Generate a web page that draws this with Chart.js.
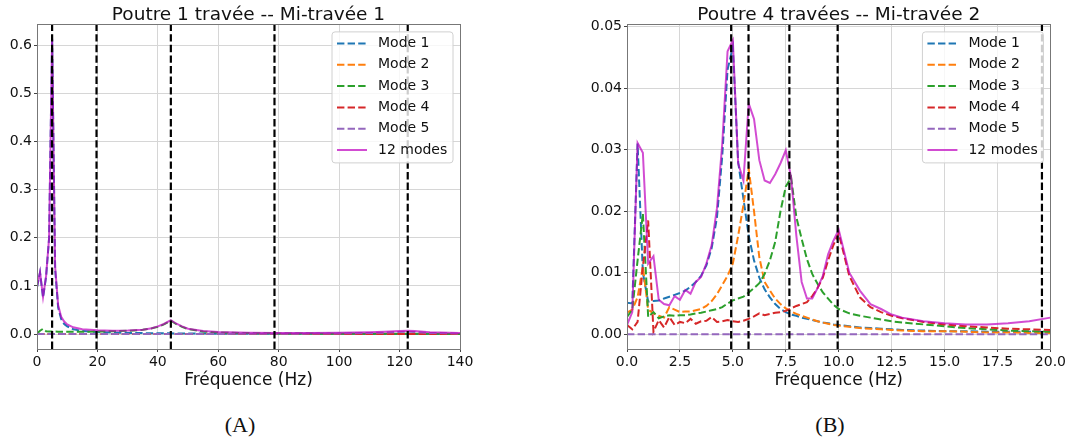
<!DOCTYPE html>
<html lang="fr">
<head>
<meta charset="utf-8">
<title>Poutre - réponse en fréquence</title>
<script src="https://cdn.jsdelivr.net/npm/chart.js@4.4.1/dist/chart.umd.min.js"></script>
<style>
  body { margin: 0; background: #fff; }
  #wrap { position: relative; width: 1068px; height: 445px; }
  canvas { position: absolute; top: 0; }
  #chartA { left: 0; }
  #chartB { left: 580px; }
  .caption { position: absolute; top: 412px; width: 60px; text-align: center;
             font: 22px "Liberation Serif", "DejaVu Serif", serif; color: #111; }
</style>
</head>
<body>
<div id="wrap">
  <canvas id="chartA" width="480" height="395"></canvas>
  <canvas id="chartB" width="488" height="395"></canvas>
  <div class="caption" style="left:210px">(A)</div>
  <div class="caption" style="left:800px">(B)</div>
</div>
<script>
// ---- Poutre 1 travée (A) ----
const freqA = [0, 1, 2, 3, 4, 5, 6, 7, 8, 9, 10, 12, 15, 20, 25, 30, 35, 38, 40, 42,
               44.3, 46, 48, 50, 55, 60, 70, 80, 90, 100, 110, 115, 120, 122.7, 125, 130, 140];
const mode1A = [0.097, 0.128, 0.076, 0.119, 0.199, 0.612, 0.135, 0.055, 0.031, 0.021,
                0.016, 0.01, 0.0065, 0.0042, 0.003, 0.0024, 0.002, 0.0018, 0.0017, 0.0016,
                0.0015, 0.0014, 0.0013, 0.0012, 0.001, 0.0009, 0.0007, 0.0006, 0.0005, 0.0005,
                0.0004, 0.0004, 0.0004, 0.0004, 0.0003, 0.0003, 0.0003];
const mode2A = [0, 0, 0, 0, 0, 0, 0, 0, 0, 0, 0, 0, 0, 0, 0, 0, 0, 0, 0, 0,
                0, 0, 0, 0, 0, 0, 0, 0, 0, 0, 0, 0, 0, 0, 0, 0, 0];
const mode3A = [0.001, 0.007, 0.011, 0.006, 0.0055, 0.0055, 0.0052, 0.005, 0.005, 0.005,
                0.005, 0.005, 0.005, 0.0052, 0.0058, 0.0068, 0.0088, 0.012, 0.015, 0.02,
                0.028, 0.021, 0.015, 0.0105, 0.0055, 0.0035, 0.002, 0.0014, 0.001, 0.0008,
                0.0007, 0.0006, 0.0006, 0.0006, 0.0005, 0.0005, 0.0004];
const mode4A = [0, 0, 0, 0, 0, 0, 0, 0, 0, 0, 0, 0, 0, 0, 0, 0, 0, 0, 0, 0,
                0, 0, 0, 0, 0, 0, 0, 0, 0, 0, 0, 0, 0, 0, 0, 0, 0];
const mode5A = [0, 0, 0, 0, 0, 0, 0, 0, 0, 0, 0, 0, 0, 0, 0, 0, 0, 0, 0, 0,
                0.0002, 0.0002, 0.0002, 0.0003, 0.0003, 0.0004, 0.0005, 0.0007, 0.001, 0.0014,
                0.0022, 0.003, 0.0045, 0.005, 0.0045, 0.0025, 0.001];
const totalA = [0.098, 0.129, 0.077, 0.12, 0.2, 0.614, 0.14, 0.06, 0.036, 0.026,
                0.02, 0.014, 0.01, 0.008, 0.007, 0.0072, 0.009, 0.012, 0.016, 0.021,
                0.029, 0.022, 0.016, 0.011, 0.0065, 0.0045, 0.003, 0.0025, 0.0025, 0.003,
                0.004, 0.005, 0.0063, 0.0068, 0.0062, 0.004, 0.002];
const naturalA = [5.0, 19.7, 44.3, 78.6, 122.7];
const yRangeA = [-0.031, 0.644];

// ---- Poutre 4 travées (B) ----
const freqB = [0, 0.25, 0.5, 0.75, 1, 1.25, 1.5, 1.75, 2, 2.25,
               2.5, 2.75, 3, 3.25, 3.5, 3.75, 4, 4.25, 4.5, 4.75,
               5, 5.25, 5.5, 5.75, 6, 6.25, 6.5, 6.75, 7, 7.25,
               7.5, 7.75, 8, 8.25, 8.5, 8.75, 9, 9.25, 9.5, 9.75,
               10, 10.5, 11, 11.5, 12, 12.5, 13,
               14, 15, 16, 17, 18, 19, 20];
const mode1B = [0.0051, 0.0050, 0.0310, 0.0100, 0.0053, 0.0054, 0.0055, 0.0058, 0.0061, 0.0064,
                0.0067, 0.0071, 0.0077, 0.0085, 0.0095, 0.0112, 0.0140, 0.0190, 0.0290, 0.0430,
                0.0467, 0.0280, 0.0220, 0.0160, 0.0120, 0.0092, 0.0073, 0.0060, 0.0049, 0.0041,
                0.0036, 0.0032, 0.0030, 0.0027, 0.0025, 0.0023, 0.0021, 0.0019, 0.0018, 0.0016,
                0.0015, 0.0013, 0.0011, 0.0010, 0.0009, 0.0008, 0.0007,
                0.0006, 0.0005, 0.0005, 0.0004, 0.0004, 0.0004, 0.0004];
const mode2B = [0.0035, 0.0040, 0.0060, 0.0110, 0.0040, 0.0034, 0.0030, 0.0027, 0.0044, 0.0040,
                0.0036, 0.0037, 0.0037, 0.0039, 0.0041, 0.0046, 0.0054, 0.0065, 0.0080, 0.0095,
                0.0115, 0.0160, 0.0210, 0.0269, 0.0200, 0.0125, 0.0085, 0.0071, 0.0058, 0.0049,
                0.0042, 0.0037, 0.0033, 0.0030, 0.0027, 0.0024, 0.0021, 0.0019, 0.0017, 0.0015,
                0.0014, 0.0012, 0.0010, 0.0009, 0.0008, 0.0007, 0.0006,
                0.0005, 0.0005, 0.0004, 0.0003, 0.0003, 0.0002, 0.0002];
const mode3B = [0.0028, 0.0040, 0.0120, 0.0196, 0.0028, 0.0036, 0.0026, 0.0029, 0.0031, 0.0030,
                0.0031, 0.0031, 0.0032, 0.0034, 0.0035, 0.0037, 0.0039, 0.0041, 0.0044, 0.0050,
                0.0055, 0.0058, 0.0061, 0.0068, 0.0075, 0.0083, 0.0098, 0.0120, 0.0150, 0.0200,
                0.0240, 0.0255, 0.0190, 0.0155, 0.0122, 0.0098, 0.0082, 0.0068, 0.0058, 0.0048,
                0.0041, 0.0034, 0.0030, 0.0027, 0.0024, 0.0021, 0.0019,
                0.0016, 0.0013, 0.0010, 0.0008, 0.0006, 0.0005, 0.0004];
const mode4B = [0.0015, 0.0008, 0.0020, 0.0110, 0.0185, 0.0004, 0.0023, 0.0011, 0.0028, 0.0015,
                0.0020, 0.0018, 0.0025, 0.0017, 0.0021, 0.0022, 0.0028, 0.0020, 0.0021, 0.0023,
                0.0021, 0.0020, 0.0022, 0.0025, 0.0029, 0.0034, 0.0031, 0.0033, 0.0035, 0.0036,
                0.0038, 0.0042, 0.0046, 0.0049, 0.0052, 0.0062, 0.0075, 0.0092, 0.0120, 0.0145,
                0.0164, 0.0095, 0.0060, 0.0044, 0.0036, 0.0030, 0.0026,
                0.0020, 0.0016, 0.0013, 0.0011, 0.0009, 0.0008, 0.0007];
const mode5B = [0, 0, 0, 0, 0, 0, 0, 0, 0, 0,
                0, 0, 0, 0, 0, 0, 0, 0, 0, 0,
                0, 0, 0, 0, 0, 0, 0, 0, 0, 0,
                0, 0, 0, 0, 0, 0, 0, 0, 0, 0,
                0, 0, 0, 0, 0, 0, 0,
                0, 0, 0, 0, 0, 0, 0];
const totalB = [0.0015, 0.0036, 0.0311, 0.0295, 0.0115, 0.0127, 0.0056, 0.0049, 0.0047, 0.0062,
                0.0056, 0.0072, 0.0066, 0.0085, 0.0093, 0.0115, 0.0145, 0.0205, 0.0310, 0.0460,
                0.0478, 0.0278, 0.0250, 0.0375, 0.0350, 0.0283, 0.0250, 0.0246, 0.0260, 0.0278,
                0.0299, 0.0255, 0.0160, 0.0085, 0.0058, 0.0058, 0.0075, 0.0095, 0.0130, 0.0152,
                0.0170, 0.0100, 0.0071, 0.0049, 0.0041, 0.0032, 0.0027,
                0.0021, 0.0018, 0.0016, 0.0016, 0.0018, 0.0021, 0.0027];
const naturalB = [4.92, 5.74, 7.67, 9.95, 19.6];
const yRangeB = [-0.0024, 0.0504];

const MODE_COLORS = ['#1f77b4', '#ff7f0e', '#2ca02c', '#d62728', '#9467bd'];
const TOTAL_COLOR = 'rgba(191, 0, 191, 0.7)';
const FONT = '"DejaVu Sans", sans-serif';
const TEXT = '#111';
const GRID = '#d6d6d6';

function pts(xs, ys) {
    return xs.map((x, i) => ({ x: x, y: ys[i] }));
}

function buildDatasets(freq, modes, total, natural, yRange) {
    const ds = modes.map((vals, i) => ({
        label: 'Mode ' + (i + 1),
        data: pts(freq, vals),
        borderColor: MODE_COLORS[i],
        borderWidth: 2,
        borderDash: [7.4, 3.2],
        order: 6 - i
    }));
    ds.push({ label: '12 modes', data: pts(freq, total), borderColor: TOTAL_COLOR, borderWidth: 2, order: 1 });
    // natural frequencies, black dashed verticals
    natural.forEach(f => ds.push({
        data: [{ x: f, y: yRange[0] }, { x: f, y: yRange[1] }],
        borderColor: '#000',
        borderWidth: 2.2,
        borderDash: [7.4, 3.2],
        order: 0
    }));
    return ds;
}

// box around the plot area, like matplotlib spines
const framePlugin = {
    id: 'frame',
    afterDatasetsDraw(chart) {
        const { ctx, chartArea: a } = chart;
        ctx.save();
        ctx.strokeStyle = '#777';
        ctx.lineWidth = 1;
        ctx.strokeRect(Math.round(a.left) + 0.5, Math.round(a.top) + 0.5,
                       Math.round(a.right - a.left), Math.round(a.bottom - a.top));
        ctx.restore();
    }
};

// legend drawn inside the plot, upper right
const insideLegend = {
    id: 'insideLegend',
    afterDatasetsDraw(chart, args, opts) {
        const { ctx, chartArea } = chart;
        const items = chart.data.datasets.filter(d => d.label);
        const x0 = chartArea.right - opts.right - opts.width;
        const y0 = chartArea.top + opts.top;
        ctx.save();
        ctx.beginPath();
        ctx.roundRect(x0, y0, opts.width, opts.height, 3);
        ctx.fillStyle = 'rgba(255,255,255,0.8)';
        ctx.fill();
        ctx.strokeStyle = '#d0d0d0';
        ctx.lineWidth = 1;
        ctx.stroke();
        ctx.font = '14px ' + FONT;
        ctx.textBaseline = 'middle';
        items.forEach((d, i) => {
            const y = y0 + 11.6 + i * opts.rowHeight;
            ctx.beginPath();
            ctx.setLineDash(d.borderDash || []);
            ctx.strokeStyle = d.borderColor;
            ctx.lineWidth = d.borderWidth;
            ctx.moveTo(x0 + 5, y);
            ctx.lineTo(x0 + 35, y);
            ctx.stroke();
            ctx.setLineDash([]);
            ctx.fillStyle = TEXT;
            ctx.fillText(d.label, x0 + 46, y);
        });
        ctx.restore();
    }
};

function makeChart(id, cfg) {
    const tickFont = { family: FONT, size: 14 };
    return new Chart(document.getElementById(id), {
        type: 'line',
        data: { datasets: cfg.datasets },
        plugins: [framePlugin, insideLegend],
        options: {
            responsive: false,
            animation: false,
            devicePixelRatio: 1,
            layout: { padding: { left: 0, right: cfg.padRight, top: 0, bottom: 0 } },
            elements: { point: { radius: 0 }, line: { tension: 0, fill: false } },
            plugins: {
                legend: { display: false },
                tooltip: { enabled: false },
                title: {
                    display: true,
                    text: cfg.title,
                    fullSize: false,
                    color: TEXT,
                    font: { family: FONT, size: 18.5, weight: 'normal' },
                    padding: { top: 4, bottom: -2 }
                },
                insideLegend: { width: 121, height: 131, right: 7, top: 7.7, rowHeight: 21.3 }
            },
            scales: {
                x: {
                    type: 'linear',
                    min: cfg.xMin,
                    max: cfg.xMax,
                    afterFit: s => { s.height = 46; },
                    border: { display: false },
                    grid: { color: GRID, lineWidth: 1, tickLength: 3, tickColor: '#444' },
                    ticks: {
                        stepSize: cfg.xStep,
                        includeBounds: false,
                        autoSkip: false,
                        maxRotation: 0,
                        padding: 2,
                        color: TEXT,
                        font: tickFont,
                        callback: cfg.xFormat
                    },
                    title: {
                        display: true,
                        text: 'Fréquence (Hz)',
                        color: TEXT,
                        font: { family: FONT, size: 17 },
                        padding: { top: 4, bottom: 4 }
                    }
                },
                y: {
                    min: cfg.yRange[0],
                    max: cfg.yRange[1],
                    afterFit: s => { s.width = cfg.yWidth; },
                    border: { display: false },
                    grid: { color: GRID, lineWidth: 1, tickLength: 3, tickColor: '#444' },
                    ticks: {
                        stepSize: cfg.yStep,
                        includeBounds: false,
                        padding: 2,
                        color: TEXT,
                        font: tickFont,
                        callback: cfg.yFormat
                    }
                }
            }
        }
    });
}

makeChart('chartA', {
    title: 'Poutre 1 travée -- Mi-travée 1',
    datasets: buildDatasets(freqA, [mode1A, mode2A, mode3A, mode4A, mode5A], totalA, naturalA, yRangeA),
    xMin: 0, xMax: 140, xStep: 20,
    xFormat: v => String(v),
    yRange: yRangeA, yStep: 0.1,
    yFormat: v => v.toFixed(1),
    yWidth: 37,
    padRight: 20
});

makeChart('chartB', {
    title: 'Poutre 4 travées -- Mi-travée 2',
    datasets: buildDatasets(freqB, [mode1B, mode2B, mode3B, mode4B, mode5B], totalB, naturalB, yRangeB),
    xMin: 0, xMax: 20, xStep: 2.5,
    xFormat: v => v.toFixed(1),
    yRange: yRangeB, yStep: 0.01,
    yFormat: v => v.toFixed(2),
    yWidth: 47,
    padRight: 17
});
</script>
</body>
</html>
